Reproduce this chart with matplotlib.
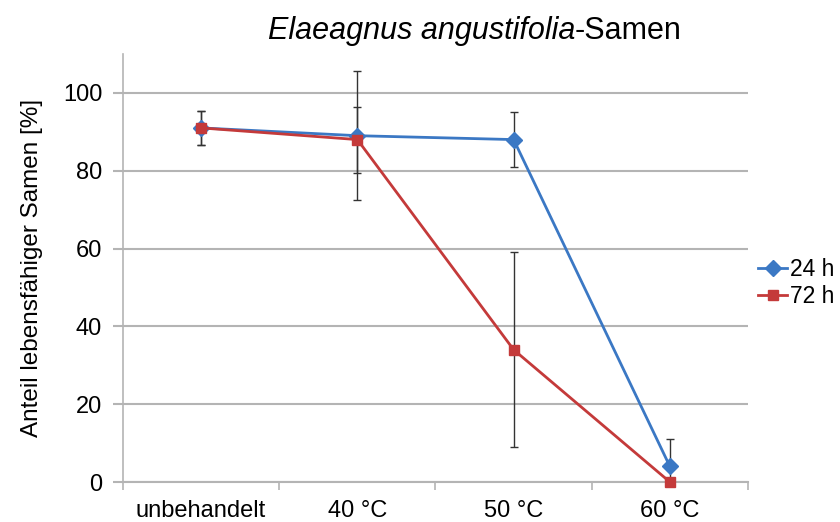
import matplotlib
matplotlib.use("Agg")
import matplotlib.pyplot as plt

# data
categories = ["unbehandelt", "40 °C", "50 °C", "60 °C"]
h24 = [91, 89, 88, 4]
h24_err = [4.3, 16.5, 7, 7]
h72 = [91, 88, 34, 0]
h72_err = [4.3, 8.5, 25, 0]

plt.rcParams["font.family"] = ["Liberation Sans", "DejaVu Sans"]

blue = "#3b78c4"
red = "#c43a3a"
grid_c = "#b4b4b4"

fig = plt.figure(figsize=(8.4, 5.22), dpi=100)
ax = fig.add_axes([0.1464, 0.0766, 0.7441, 0.82])

x = list(range(len(categories)))

# error bars first (dark, thin), lines on top
ax.errorbar(x, h24, yerr=h24_err, fmt="none", ecolor="#333333",
            elinewidth=1.0, capsize=3, capthick=1.0, zorder=3)
ax.errorbar(x, h72, yerr=h72_err, fmt="none", ecolor="#333333",
            elinewidth=1.0, capsize=3, capthick=1.0, zorder=3)

l1, = ax.plot(x, h24, color=blue, lw=2.0, marker="D", markersize=8,
              label="24 h", zorder=4, clip_on=False)
l2, = ax.plot(x, h72, color=red, lw=2.0, marker="s", markersize=7.5,
              label="72 h", zorder=5, clip_on=False)

ax.set_xlim(-0.5, len(categories) - 0.5)
ax.set_ylim(0, 110)
ax.set_yticks([0, 20, 40, 60, 80, 100])
ax.set_xticks(x)
ax.set_xticklabels(categories)
ax.set_xticks([i - 0.5 for i in range(len(categories) + 1)], minor=True)
ax.tick_params(axis="x", which="major", length=0, pad=13, labelsize=17)
ax.tick_params(axis="x", which="minor", length=6, width=1.2, color=grid_c)
ax.tick_params(axis="y", length=7, width=1.5, color=grid_c, pad=8, labelsize=17)

ax.yaxis.grid(True, color=grid_c, lw=1.5)
ax.set_axisbelow(True)
for s in ["top", "right"]:
    ax.spines[s].set_visible(False)
ax.spines["left"].set_color(grid_c)
ax.spines["left"].set_linewidth(1.2)
ax.spines["bottom"].set_color(grid_c)
ax.spines["bottom"].set_linewidth(1.5)

ax.set_ylabel("Anteil lebensfähiger Samen [%]", fontsize=17.5, labelpad=14)

# title: italic species name + upright suffix
t1 = fig.text(0.6845, 1 - 39 / 522, "Elaeagnus angustifolia", fontsize=22,
              style="italic", ha="right", va="baseline")
fig.canvas.draw()
ax.annotate("-Samen", xy=(1, 0), xycoords=t1, fontsize=22, ha="left",
            va="bottom", annotation_clip=False)

fig.legend(handles=[l1, l2], loc="center left", bbox_to_anchor=(0.902, 0.458),
           frameon=False, fontsize=16.5, handlelength=1.3, handletextpad=0.12,
           borderpad=0, borderaxespad=0, labelspacing=0.15)

fig.savefig("out.png", dpi=100)
